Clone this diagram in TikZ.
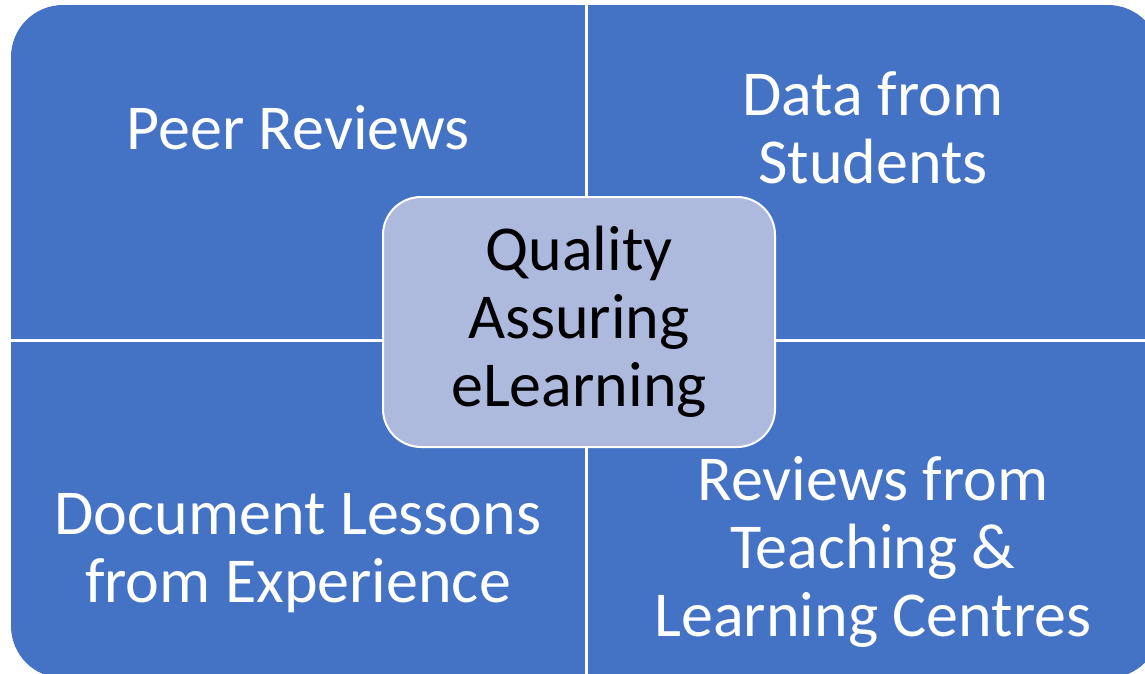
\documentclass[tikz,border=0pt]{standalone}
\usepackage{fontspec}
\setmainfont{Carlito}
\usetikzlibrary{positioning}
\definecolor{tileblue}{HTML}{4472C4}
\definecolor{hubblue}{HTML}{AEB9DE}
\begin{document}
\begin{tikzpicture}
[x=1pt,y=-1pt,
tile/.style = {text=white, align=center, font=\fontsize{64}{68}\selectfont},
hub/.style = {draw=white, line width=2pt, fill=hubblue, rounded corners=38pt, minimum width=392pt, minimum height=250pt, align=center, font=\fontsize{64}{68}\selectfont},]
\useasboundingbox (0,0) rectangle (1145,673);
\clip (0,0) rectangle (1145,673);
% the four tiles
\fill[tileblue, rounded corners=52pt] (11,5) rectangle (1160,678);
\draw[white, line width=3pt] (586,0) -- (586,680);
\draw[white, line width=3pt] (0,340) -- (1170,340);
\node (peer) at (298,128)[tile] {Peer Reviews};
\node (data) at (873,128)[tile] {Data from\\Students};
\node (lessons) at (298,553)[tile] {Document Lessons\\from Experience};
\node (centres) at (873,552)[tile] {Reviews from\\Teaching \&\\Learning Centres};
% centre box
\node (hub) at (579,322)[hub] {Quality\\Assuring\\eLearning};
\end{tikzpicture}
\end{document}
